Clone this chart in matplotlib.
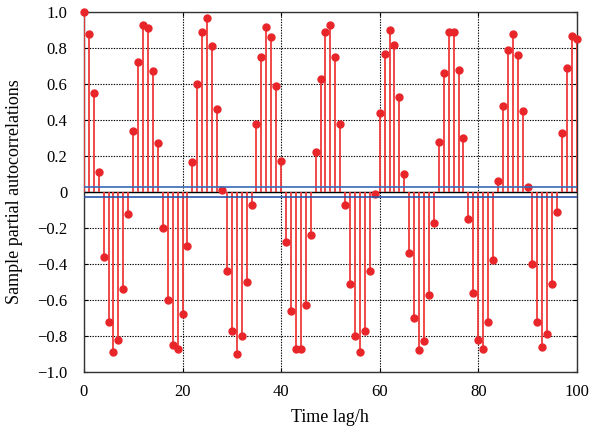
import numpy as np
import matplotlib.pyplot as plt
from matplotlib.ticker import FuncFormatter

plt.rcParams['font.family'] = ['Liberation Serif', 'DejaVu Serif']

# lags and sample partial autocorrelations
lags = np.arange(0, 101)
pacf = [1.00, 0.88, 0.55, 0.11, -0.36, -0.72, -0.89, -0.82, -0.54, -0.12,
        0.34, 0.72, 0.93, 0.91, 0.67, 0.27, -0.20, -0.60, -0.85, -0.875,
        -0.68, -0.30, 0.165, 0.60, 0.89, 0.967, 0.81, 0.46, 0.01, -0.44,
        -0.77, -0.90, -0.80, -0.50, -0.07, 0.38, 0.75, 0.92, 0.86, 0.59,
        0.17, -0.28, -0.66, -0.87, -0.87, -0.63, -0.24, 0.22, 0.63, 0.89,
        0.93, 0.75, 0.38, -0.07, -0.51, -0.80, -0.89, -0.77, -0.44, -0.01,
        0.44, 0.77, 0.90, 0.82, 0.53, 0.10, -0.34, -0.70, -0.88, -0.83,
        -0.57, -0.17, 0.28, 0.66, 0.89, 0.89, 0.68, 0.30, -0.15, -0.56,
        -0.82, -0.87, -0.72, -0.38, 0.06, 0.48, 0.79, 0.88, 0.76, 0.45,
        0.03, -0.40, -0.72, -0.86, -0.79, -0.51, -0.11, 0.33, 0.69, 0.87,
        0.85]
conf = 0.028
xticks = [0, 20, 40, 60, 80, 100]
yticks = np.round(np.arange(-1.0, 1.01, 0.2), 1)

fig = plt.figure(figsize=(5.91, 4.33), dpi=100)
ax = fig.add_axes([0.142, 0.141, 0.834, 0.831])

# stems
ax.vlines(lags, 0, pacf, color='#f03a3a', linewidth=1.3, zorder=3)
ax.plot(lags, pacf, 'o', color='#e8262a', markersize=5, zorder=4, clip_on=False)
ax.axhline(0, color='black', linewidth=1.0, zorder=2)

# confidence bounds
ax.axhline(conf, color='#3a6ab8', linewidth=1.2, zorder=5)
ax.axhline(-conf, color='#2a55a8', linewidth=1.2, zorder=5)

ax.set_xlim(0, 100)
ax.set_ylim(-1.0, 1.0)
ax.set_xticks(xticks)
ax.set_yticks(yticks)
ax.yaxis.set_major_formatter(FuncFormatter(
    lambda v, p: '0' if abs(v) < 1e-9 else ('%.1f' % v).replace('-', '\u2212')))
ax.grid(True, linestyle=(0, (1.2, 1.2)), color='black', linewidth=0.8)
ax.tick_params(direction='in', length=3, labelsize=12, top=True, right=True)
ax.tick_params(axis='x', pad=9)
ax.tick_params(axis='y', pad=12)
for s in ax.spines.values():
    s.set_linewidth(1.0)
    s.set_color('#333333')

ax.set_xlabel('Time lag/h', fontsize=13, labelpad=6)
ax.set_ylabel('Sample partial autocorrelations', fontsize=13, labelpad=10)

fig.savefig('out.png', dpi=100)
